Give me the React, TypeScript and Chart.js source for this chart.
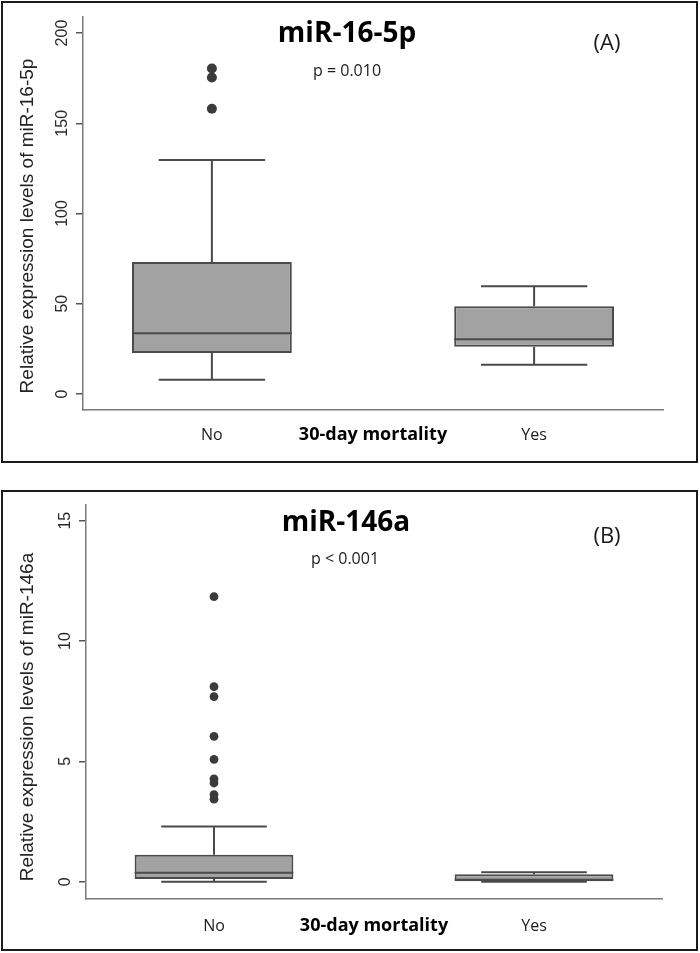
import React, { useEffect, useRef } from "react";
import { Chart, registerables } from "chart.js";

Chart.register(...registerables);

// ---------------- data ----------------
const categories = ["No", "Yes"];
const categoryX = [1, 2];

// Panel A: miR-16-5p
const aLowerWhisker = [7.8, 16.2];
const aQ1 = [22.7, 26.2];
const aMedian = [33.6, 30.3];
const aQ3 = [73.1, 48.6];
const aUpperWhisker = [129.6, 59.7];
const aOutliersNo = [180.4, 175.4, 158.1];
const aOutliersYes: number[] = [];
const aYTicks = [0, 50, 100, 150, 200];
const aYMin = -8.9;
const aYMax = 208.9;

// Panel B: miR-146a
const bLowerWhisker = [0.0, 0.0];
const bQ1 = [0.11, 0.02];
const bMedian = [0.37, 0.08];
const bQ3 = [1.12, 0.31];
const bUpperWhisker = [2.29, 0.39];
const bOutliersNo = [11.84, 8.1, 7.69, 6.04, 5.08, 4.27, 4.1, 3.62, 3.43];
const bOutliersYes: number[] = [];
const bYTicks = [0, 5, 10, 15];
const bYMin = -0.69;
const bYMax = 15.65;

const xMin = 0.6;
const xMax = 2.4;
const xAxisTitle = "30-day mortality";

// ---------------- styles ----------------
const BOX_WIDTH = 0.496; // in x units
const CAP_HALF = 0.165;
const BOX_FILL = "#a2a2a2";
const LINE_COLOR = "#4a4a4a";
const DOT_COLOR = "#3b3b3b";
const AXIS_COLOR = "#7a7a7a";

type Spec = {
  lower: number[];
  q1: number[];
  median: number[];
  q3: number[];
  upper: number[];
  outliers: number[][];
  yTicks: number[];
  yMin: number;
  yMax: number;
  title: string;
  pText: string;
  letter: string;
  yTitle: string;
  dotRadius: number;
};

type Layout = {
  top: number;
  height: number;
  padRight: number;
  padTop: number;
  yAxisWidth: number;
  xAxisHeight: number;
  yTickPadding: number;
  xTickPadding: number;
  xTitlePadBottom: number;
  titleX: number;
  titleY: number;
  pX: number;
  pY: number;
  letterX: number;
  letterY: number;
  yTitleX: number;
  yTitleY: number;
};

const specA: Spec = {
  lower: aLowerWhisker,
  q1: aQ1,
  median: aMedian,
  q3: aQ3,
  upper: aUpperWhisker,
  outliers: [aOutliersNo, aOutliersYes],
  yTicks: aYTicks,
  yMin: aYMin,
  yMax: aYMax,
  title: "miR-16-5p",
  pText: "p = 0.010",
  letter: "(A)",
  yTitle: "Relative expression levels of miR-16-5p",
  dotRadius: 5,
};

const specB: Spec = {
  lower: bLowerWhisker,
  q1: bQ1,
  median: bMedian,
  q3: bQ3,
  upper: bUpperWhisker,
  outliers: [bOutliersNo, bOutliersYes],
  yTicks: bYTicks,
  yMin: bYMin,
  yMax: bYMax,
  title: "miR-146a",
  pText: "p < 0.001",
  letter: "(B)",
  yTitle: "Relative expression levels of miR-146a",
  dotRadius: 4.4,
};

const layoutA: Layout = {
  top: 0,
  height: 463,
  padRight: 37,
  padTop: 17,
  yAxisWidth: 83,
  xAxisHeight: 53,
  yTickPadding: 0,
  xTickPadding: 16,
  xTitlePadBottom: 17,
  titleX: 347,
  titleY: 34,
  pX: 347,
  pY: 71,
  letterX: 607,
  letterY: 44,
  yTitleX: 28,
  yTitleY: 226,
};

const layoutB: Layout = {
  top: 490,
  height: 463,
  padRight: 38,
  padTop: 15,
  yAxisWidth: 86,
  xAxisHeight: 54.7,
  yTickPadding: 5,
  xTickPadding: 19,
  xTitlePadBottom: 16,
  titleX: 346,
  titleY: 33,
  pX: 345,
  pY: 69,
  letterX: 607,
  letterY: 47,
  yTitleX: 28,
  yTitleY: 227,
};

const textPlugin = {
  id: "panelText",
  afterDraw(chart: any, _args: any, opts: any) {
    const ctx = chart.ctx as CanvasRenderingContext2D;
    ctx.save();
    ctx.textAlign = "center";
    ctx.textBaseline = "middle";
    ctx.fillStyle = "#000";
    ctx.font = 'bold 28px "Open Sans"';
    ctx.fillText(opts.title, opts.titleX, opts.titleY);
    ctx.fillStyle = "#1a1a1a";
    ctx.font = '16px "Open Sans"';
    ctx.fillText(opts.pText, opts.pX, opts.pY);
    ctx.font = '22px "Open Sans"';
    ctx.fillText(opts.letter, opts.letterX, opts.letterY);
    ctx.translate(opts.yTitleX, opts.yTitleY);
    ctx.rotate(-Math.PI / 2);
    ctx.fillStyle = "#222";
    ctx.font = '19px "Liberation Sans"';
    ctx.fillText(opts.yTitle, 0, 0);
    ctx.restore();
  },
};

function buildConfig(s: Spec, L: Layout): any {
  const whiskers: any[] = [];
  const medians: any[] = [];
  categoryX.forEach((x, i) => {
    whiskers.push({ x, y: s.q3[i] }, { x, y: s.upper[i] }, { x, y: null });
    whiskers.push({ x: x - CAP_HALF, y: s.upper[i] }, { x: x + CAP_HALF, y: s.upper[i] }, { x, y: null });
    whiskers.push({ x, y: s.q1[i] }, { x, y: s.lower[i] }, { x, y: null });
    whiskers.push({ x: x - CAP_HALF, y: s.lower[i] }, { x: x + CAP_HALF, y: s.lower[i] }, { x, y: null });
    medians.push(
      { x: x - BOX_WIDTH / 2, y: s.median[i] },
      { x: x + BOX_WIDTH / 2, y: s.median[i] },
      { x, y: null }
    );
  });
  const outlierPts: any[] = [];
  s.outliers.forEach((arr, i) => arr.forEach((v) => outlierPts.push({ x: categoryX[i], y: v })));

  return {
    type: "bar",
    data: {
      datasets: [
        {
          type: "scatter",
          label: "outliers",
          data: outlierPts,
          pointRadius: s.dotRadius,
          pointBackgroundColor: DOT_COLOR,
          pointBorderWidth: 0,
          order: 0,
        },
        {
          type: "line",
          label: "median",
          data: medians,
          borderColor: LINE_COLOR,
          borderWidth: 2,
          pointRadius: 0,
          spanGaps: false,
          tension: 0,
          order: 1,
        },
        {
          type: "line",
          label: "whiskers",
          data: whiskers,
          borderColor: LINE_COLOR,
          borderWidth: 2,
          pointRadius: 0,
          spanGaps: false,
          tension: 0,
          order: 2,
        },
        {
          type: "bar",
          label: "IQR",
          data: categoryX.map((x, i) => ({ x, y: [s.q1[i], s.q3[i]] })),
          backgroundColor: BOX_FILL,
          borderColor: LINE_COLOR,
          borderWidth: 2,
          borderSkipped: false,
          barPercentage: 1,
          categoryPercentage: BOX_WIDTH,
          order: 3,
        },
      ],
    },
    options: {
      responsive: true,
      maintainAspectRatio: false,
      animation: false,
      events: [],
      layout: { padding: { left: 0, right: L.padRight, top: L.padTop, bottom: 0 } },
      plugins: {
        legend: { display: false },
        tooltip: { enabled: false },
        panelText: {
          title: s.title,
          pText: s.pText,
          letter: s.letter,
          yTitle: s.yTitle,
          titleX: L.titleX,
          titleY: L.titleY,
          pX: L.pX,
          pY: L.pY,
          letterX: L.letterX,
          letterY: L.letterY,
          yTitleX: L.yTitleX,
          yTitleY: L.yTitleY,
        },
      },
      scales: {
        x: {
          type: "linear",
          min: xMin,
          max: xMax,
          offset: false,
          afterBuildTicks: (scale: any) => {
            scale.ticks = categoryX.map((v) => ({ value: v }));
          },
          afterFit: (scale: any) => {
            scale.height = L.xAxisHeight;
          },
          grid: { drawOnChartArea: false, drawTicks: false, offset: false },
          border: { display: true, color: AXIS_COLOR, width: 1.5 },
          ticks: {
            autoSkip: false,
            maxRotation: 0,
            padding: L.xTickPadding,
            color: "#1a1a1a",
            font: { family: "Open Sans", size: 16 },
            callback: (_v: any, i: number) => categories[i],
          },
          title: {
            display: true,
            text: xAxisTitle,
            color: "#000",
            font: { family: "Open Sans", size: 18, weight: "bold" },
            padding: { top: 0, bottom: L.xTitlePadBottom },
          },
        },
        y: {
          type: "linear",
          min: s.yMin,
          max: s.yMax,
          afterBuildTicks: (scale: any) => {
            scale.ticks = s.yTicks.map((v) => ({ value: v }));
          },
          afterFit: (scale: any) => {
            scale.width = L.yAxisWidth;
          },
          grid: {
            drawOnChartArea: false,
            drawTicks: true,
            tickLength: 7,
            tickColor: "#555",
            lineWidth: 1.5,
          },
          border: { display: true, color: AXIS_COLOR, width: 1.5 },
          ticks: {
            autoSkip: false,
            minRotation: 90,
            maxRotation: 90,
            crossAlign: "center",
            padding: L.yTickPadding,
            color: "#2a2a2a",
            font: { family: "Liberation Sans", size: 16 },
            callback: (v: any) => String(v),
          },
        },
      },
    },
    plugins: [textPlugin],
  };
}

function Panel({ spec, layout }: { spec: Spec; layout: Layout }) {
  const ref = useRef<HTMLCanvasElement>(null);
  useEffect(() => {
    const chart = new Chart(ref.current as HTMLCanvasElement, buildConfig(spec, layout));
    return () => chart.destroy();
  }, []);
  return (
    <div
      style={{
        position: "absolute",
        left: 0,
        top: layout.top,
        width: 700,
        height: layout.height,
      }}
    >
      <canvas ref={ref} />
    </div>
  );
}

export default function App() {
  return (
    <div
      style={{
        position: "absolute",
        left: 0,
        top: 0,
        width: 700,
        height: 953,
        background: "#fff",
        overflow: "hidden",
      }}
    >
      <Panel spec={specA} layout={layoutA} />
      <Panel spec={specB} layout={layoutB} />
      <div
        style={{
          position: "absolute",
          left: 1,
          top: 1,
          width: 697,
          height: 462,
          border: "2.5px solid #1c1c1c",
          boxSizing: "border-box",
          pointerEvents: "none",
        }}
      />
      <div
        style={{
          position: "absolute",
          left: 1,
          top: 490,
          width: 697,
          height: 461,
          border: "2.5px solid #1c1c1c",
          boxSizing: "border-box",
          pointerEvents: "none",
        }}
      />
    </div>
  );
}
